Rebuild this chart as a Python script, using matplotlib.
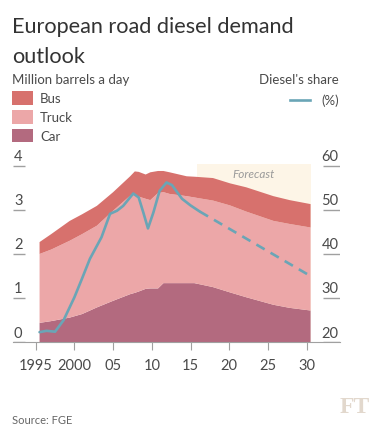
import numpy as np
import matplotlib
matplotlib.use('Agg')
from matplotlib import pyplot as plt
from matplotlib.patches import Rectangle
from matplotlib.lines import Line2D

plt.rcParams['font.family'] = ['Lato', 'DejaVu Sans']

# stack data, million barrels a day
years = [1995.5, 1997, 1999.4, 2001, 2002.9, 2005, 2007.2, 2007.8, 2008.3, 2009.2, 2009.8,
         2010.8, 2011.5, 2012.3, 2014.5, 2015.5, 2017.9, 2020.1, 2022.2, 2025.7, 2027.8, 2030.5]
car = [0.44, 0.48, 0.56, 0.64, 0.79, 0.94, 1.09, 1.12, 1.15, 1.21, 1.22,
       1.22, 1.34, 1.34, 1.34, 1.34, 1.25, 1.13, 1.02, 0.85, 0.78, 0.72]
truck = [1.56, 1.62, 1.74, 1.81, 1.85, 2.04, 2.23, 2.21, 2.15, 2.04, 2.00,
         2.16, 2.06, 2.02, 1.97, 1.94, 1.96, 1.97, 1.94, 1.90, 1.90, 1.88]
bus = [0.27, 0.35, 0.45, 0.45, 0.45, 0.42, 0.44, 0.54, 0.56, 0.55, 0.63,
       0.50, 0.48, 0.49, 0.45, 0.47, 0.51, 0.50, 0.55, 0.56, 0.54, 0.53]

# diesel's share of road fuel (%)
share_years = [1995.5, 1996.4, 1997.5, 1998.6, 2000.0, 2001.0, 2002.0, 2003.5, 2004.6, 2005.5,
               2006.3, 2007.6, 2008.3, 2008.9, 2009.5, 2010.2, 2011.0, 2011.9, 2012.6, 2013.9,
               2015.0, 2016.2]
share = [22.3, 22.6, 22.4, 25.0, 30.2, 34.5, 38.9, 43.8, 49.1, 49.8,
         50.9, 53.7, 52.8, 49.4, 45.8, 49.4, 54.3, 56.2, 55.6, 52.5,
         51.0, 49.6]
fc_years = [2016.2, 2030.5]
fc_share = [49.6, 35.0]
forecast_span = (2015.8, 2030.5)

xticks = [1995, 2000, 2005, 2010, 2015, 2020, 2025, 2030]
xlabels = ['1995', '2000', '05', '10', '15', '20', '25', '30']
lticks = [0, 1, 2, 3, 4]
rticks = [20, 30, 40, 50, 60]

c_car = '#b36a7f'
c_truck = '#eca7a8'
c_bus = '#d7716d'
c_line = '#6aa5b6'
c_text = '#4a4a4a'
c_axis = '#a0a0a0'

W, H = 384, 431
fig = plt.figure(figsize=(W / 100, H / 100), dpi=100)
fig.patch.set_facecolor('white')

def fx(px):
    return px / W

def fy(py):
    return 1 - py / H

ax = fig.add_axes([fx(13), fy(343.3), fx(327), (343.3 - 162) / H])
ax.set_xlim(1992.07, 2034.3)
ax.set_ylim(0, 4.106)

ax.fill_between(forecast_span, 0, 4.04, color='#fdf5e7', lw=0, zorder=0)
ax.text(sum(forecast_span) / 2, 3.82, 'Forecast', style='italic', color='#9a9a9a',
        fontsize=8.5, ha='center', va='center')
ax.stackplot(years, car, truck, bus, colors=[c_car, c_truck, c_bus], lw=0, zorder=1)

for s in ['top', 'left', 'right']:
    ax.spines[s].set_visible(False)
ax.spines['bottom'].set_color(c_axis)
ax.set_xticks(xticks)
ax.set_xticklabels(xlabels)
ax.tick_params(axis='x', length=6, color=c_axis, pad=5, labelsize=10.5, labelcolor=c_text)
ax.set_yticks([])

ytr = ax.get_yaxis_transform()
for v in lticks:
    ax.hlines(v, 0, 12 / 327, transform=ytr, color=c_axis, lw=1)
    ax.text(0.003, v + 0.06, str(v), transform=ytr, ha='left', va='bottom',
            fontsize=10.5, color=c_text)

ax2 = ax.twinx()
ax2.set_ylim(20, 61.06)
ax2.axis('off')
ax2.plot(share_years, share, color=c_line, lw=1.9, solid_capstyle='round', zorder=3)
ax2.plot(fc_years, fc_share, color=c_line, lw=1.9, dashes=(3.6, 2.6), zorder=3)
ytr2 = ax2.get_yaxis_transform()
for v in rticks:
    ax2.hlines(v, 1 - 17.3 / 327, 1, transform=ytr2, color=c_axis, lw=1)
    ax2.text(0.995, v + 0.6, str(v), transform=ytr2, ha='right', va='bottom',
             fontsize=10.5, color=c_text)

# titles and legend
fig.text(fx(12), fy(33.3), 'European road diesel demand', fontsize=15.6,
         color='#333333', ha='left', va='baseline')
fig.text(fx(12), fy(62.7), 'outlook', fontsize=15.6,
         color='#333333', ha='left', va='baseline')
fig.text(fx(12), fy(80), 'Million barrels a day', fontsize=9.5, color=c_text, va='center')
fig.text(fx(339), fy(80), "Diesel's share", fontsize=9.5, color=c_text, va='center', ha='right')

for i, (lab, col) in enumerate([('Bus', c_bus), ('Truck', c_truck), ('Car', c_car)]):
    y0 = 92.3 + i * 18.7
    fig.patches.append(Rectangle((fx(12), fy(y0 + 13.5)), fx(20.5), 13.5 / H,
                                 transform=fig.transFigure, color=col, lw=0))
    fig.text(fx(40), fy(y0 + 7), lab, fontsize=9.5, color=c_text, va='center')

fig.lines.append(Line2D([fx(290), fx(310)], [fy(101), fy(101)], transform=fig.transFigure,
                        color=c_line, lw=1.9))
fig.text(fx(339), fy(101), '(%)', fontsize=9.5, color=c_text, va='center', ha='right')

fig.text(fx(12), fy(421), 'Source: FGE', fontsize=8, color='#666666', va='center')
fig.text(fx(370), fy(408), 'FT', fontsize=17, color='#e2d8cd', va='center', ha='right',
         family='Liberation Serif', weight='bold')

fig.savefig('out.png', dpi=100)
